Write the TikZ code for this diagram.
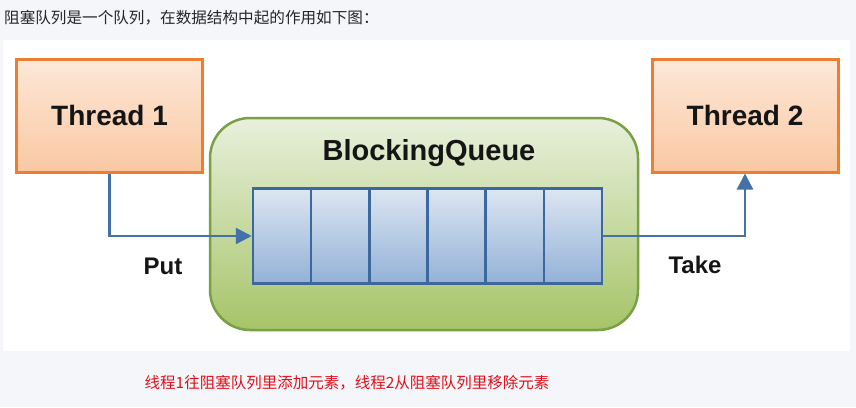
\documentclass[tikz,border=0pt]{standalone}
\usepackage{fontspec}
\setmainfont{Liberation Sans}
\newfontfamily\cjk{Noto Sans CJK SC}
\usetikzlibrary{arrows.meta}
\definecolor{bgc}{HTML}{F5F6FA}
\definecolor{orborder}{HTML}{ED7D31}
\definecolor{ortop}{HTML}{FDE8D8}
\definecolor{orbot}{HTML}{F9C8A2}
\definecolor{grborder}{HTML}{79A044}
\definecolor{grtop}{HTML}{E8F0DC}
\definecolor{grbot}{HTML}{A6C468}
\definecolor{blborder}{HTML}{3D689E}
\definecolor{bltop}{HTML}{DCE6F2}
\definecolor{blbot}{HTML}{93B1D6}
\definecolor{arrc}{HTML}{4371A8}
\definecolor{txtc}{HTML}{151515}
\definecolor{redc}{HTML}{E0101A}
\begin{document}
\begin{tikzpicture}[x=1pt,y=-1pt,
  thread/.style={draw=orborder, line width=3pt, top color=ortop, bottom color=orbot,
    minimum width=186pt, minimum height=113pt, inner sep=0pt,
    font=\fontsize{28}{32}\selectfont\bfseries, text=txtc},
  bqbox/.style={draw=grborder, line width=2.5pt, top color=grtop, bottom color=grbot,
    rounded corners=40pt, minimum width=428pt, minimum height=212pt, inner sep=0pt},
  cell/.style={draw=blborder, line width=2.5pt, top color=bltop, bottom color=blbot,
    minimum width=58.17pt, minimum height=95pt, inner sep=0pt},
  arr/.style={draw=arrc, line width=2.5pt, -{Triangle[length=16pt,width=16pt]}},
  lbl/.style={font=\fontsize{24}{28}\selectfont\bfseries, text=txtc, inner sep=0pt}
]
\fill[bgc] (0,0) rectangle (856,407);
\fill[white] (3,40) rectangle (850,351);
\useasboundingbox (0,0) rectangle (856,407);

\node[anchor=west, inner sep=0pt, text=black!85, font=\cjk\fontsize{15.6}{18}\selectfont] (title) at (4,18) {阻塞队列是一个队列，在数据结构中起的作用如下图：};

\node[thread] (t1) at (109.5,115.5) {Thread 1};
\node[thread] (t2) at (745,115.5) {Thread 2};

\node[bqbox] (bq) at (424,224) {};
\node[font=\fontsize{29}{32}\selectfont\bfseries, text=txtc, inner sep=0pt] (bqt) at (429,153) {BlockingQueue};

\foreach \i in {1,...,6} {
  \node[cell] (c\i) at ({253+58.17*(\i-0.5)},236) {};
}

\draw[arr] (t1.south) |- (c1.west);
\draw[arr] (c6.east) -| (t2.south);

\node[lbl] (put) at (163,266) {Put};
\node[lbl] (take) at (695,265) {Take};

\node[inner sep=0pt, text=redc, font=\cjk\fontsize{15.5}{18}\selectfont] (note) at (347,383) {线程1往阻塞队列里添加元素，线程2从阻塞队列里移除元素};
\end{tikzpicture}
\end{document}
